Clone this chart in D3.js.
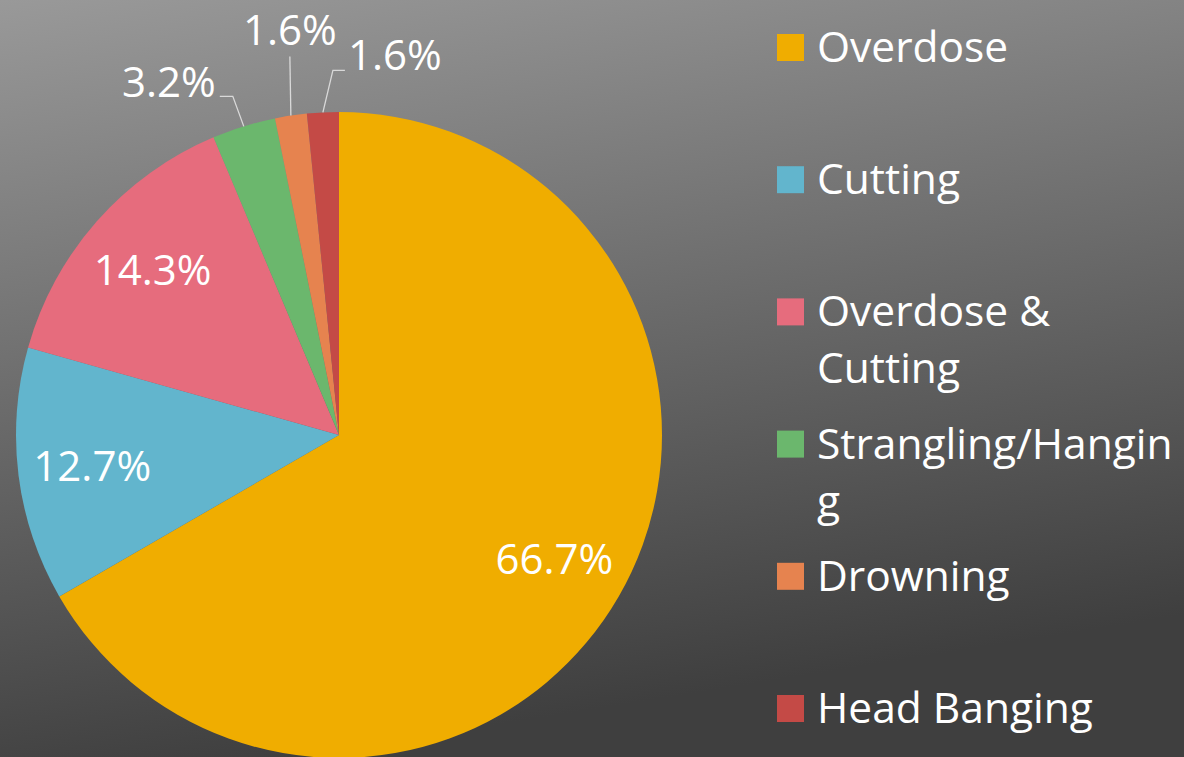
<!DOCTYPE html>
<html><head><meta charset="utf-8">
<script src="https://cdn.jsdelivr.net/npm/d3@7"></script>
<style>html,body{margin:0;padding:0;overflow:hidden;background:#666}</style>
</head><body><svg id="chart" width="1184" height="757"></svg>
<script>
const categories = ["Overdose", "Cutting", "Overdose & Cutting", "Strangling/Hanging", "Drowning", "Head Banging"];
const counts = [42, 8, 9, 2, 1, 1];
const percentLabels = ["66.7%", "12.7%", "14.3%", "3.2%", "1.6%", "1.6%"];
const legendLines = [["Overdose"], ["Cutting"], ["Overdose &", "Cutting"], ["Strangling/Hangin", "g"], ["Drowning"], ["Head Banging"]];
const colors = ["#f0ad00", "#62b5cd", "#e66c7d", "#6bb76d", "#e6834f", "#c44a46"];

const W = 1184, H = 757;
const svg = d3.select("#chart");
const defs = svg.append("defs");
const grad = defs.append("linearGradient").attr("id", "bg")
  .attr("x1", "0").attr("y1", "0").attr("x2", "0.25").attr("y2", "1");
grad.append("stop").attr("offset", "0").attr("stop-color", "#999999");
grad.append("stop").attr("offset", "1").attr("stop-color", "#3f3f3f");
svg.append("rect").attr("width", W).attr("height", H).attr("fill", "url(#bg)");

const cx = 339, cy = 435, R = 323;
const FONT = "'Open Sans', sans-serif";
const color = d3.scaleOrdinal().domain(categories).range(colors);
const pie = d3.pie().sort(null).value(d => d.value);
const data = categories.map((c, i) => ({name: c, value: counts[i], label: percentLabels[i]}));
const arcs = pie(data);
const arc = d3.arc().innerRadius(0).outerRadius(R);
const labelArc = d3.arc().innerRadius(R * 0.77).outerRadius(R * 0.77);

const g = svg.append("g").attr("transform", `translate(${cx},${cy})`);
g.selectAll("path").data(arcs).join("path")
  .attr("d", arc).attr("fill", d => color(d.data.name));

// inside labels for large slices
const inside = arcs.filter(d => d.data.value / d3.sum(counts) > 0.05);
g.selectAll("text.in").data(inside).join("text")
  .attr("class", "in")
  .attr("transform", d => `translate(${labelArc.centroid(d)})`)
  .attr("text-anchor", "middle").attr("dy", "0.35em")
  .attr("font-family", FONT).attr("font-size", 42).attr("fill", "#fff")
  .text(d => d.data.label);

// outside labels with leader lines (layout offsets relative to slice edge)
const outsideLayout = [
  {i: 3, elbow: [-11, -30], end: [-13, 0], anchor: "end", tdx: -4, tdy: 1},
  {i: 4, elbow: [-1, -59], end: [0, 0], anchor: "middle", tdx: 0, tdy: -12},
  {i: 5, elbow: [10, -42], end: [12, 0], anchor: "start", tdx: 3, tdy: 0}
];
const edge = d => {
  const a = (d.startAngle + d.endAngle) / 2;
  return [R * Math.sin(a), -R * Math.cos(a)];
};
outsideLayout.forEach(o => {
  const d = arcs[o.i];
  const p0 = edge(d);
  const p1 = [p0[0] + o.elbow[0], p0[1] + o.elbow[1]];
  const p2 = [p1[0] + o.end[0], p1[1] + o.end[1]];
  g.append("path")
    .attr("d", d3.line()([p0, p1, p2]))
    .attr("fill", "none").attr("stroke", "#d9d9d9").attr("stroke-width", 1.3);
  g.append("text")
    .attr("x", p2[0] + o.tdx).attr("y", p2[1] + o.tdy)
    .attr("text-anchor", o.anchor)
    .attr("font-family", FONT).attr("font-size", 42).attr("fill", "#fff")
    .text(d.data.label);
});

// legend
const legendY = d3.scalePoint().domain(categories).range([34, 695]);
const lg = svg.append("g");
categories.forEach((c, i) => {
  const y = legendY(c);
  lg.append("rect").attr("x", 777).attr("y", y).attr("width", 27).attr("height", 27)
    .attr("fill", color(c));
  const t = lg.append("text").attr("font-family", FONT).attr("font-size", 42.5).attr("fill", "#fff");
  legendLines[i].forEach((line, j) => {
    t.append("tspan").attr("x", 817).attr("y", y + 28 + j * 57).text(line);
  });
});
</script>
</body></html>
